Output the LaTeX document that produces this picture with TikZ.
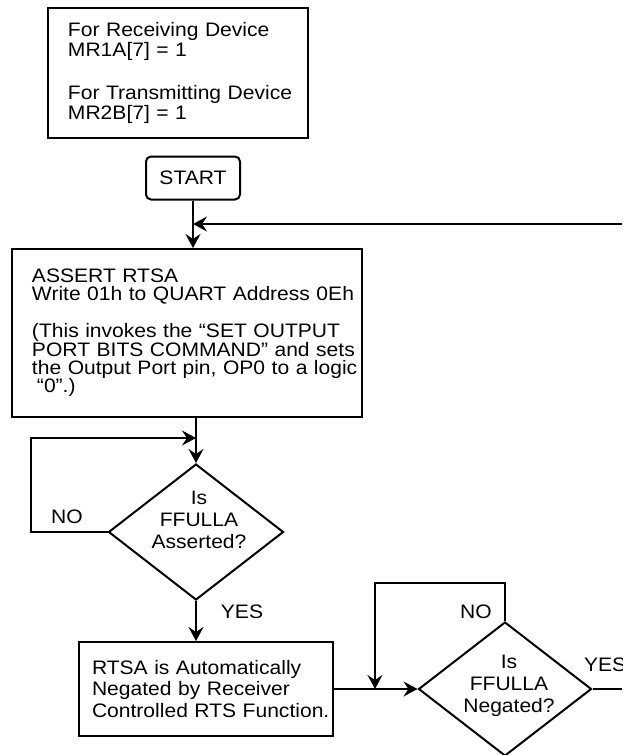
\documentclass[tikz,border=0pt]{standalone}
\usepackage{fontspec}
\setmainfont{Liberation Sans}[FakeStretch=1.08]
\usetikzlibrary{shapes.geometric,arrows.meta}

\begin{document}
\begin{tikzpicture}[x=1pt, y=-1pt, line width=2pt,
  font=\fontsize{19.5}{20}\selectfont,
  block/.style={draw, rectangle, align=left, inner sep=0pt, text width=#1,
    execute at begin node={\rightskip=-8pt plus 1fil\relax}},
  margin/.style={execute at begin node={\leftskip=#1\relax}},
  terminal/.style={draw, rectangle, rounded corners=5pt,
    minimum width=94pt, minimum height=43pt},
  decision/.style={draw, diamond, aspect=1.29, inner sep=0pt},
  question/.style={align=center, inner sep=0pt,
    font=\fontsize{19.5}{22}\selectfont},
  flow/.style={-{Stealth[length=14pt,width=15pt,inset=5pt]}}]

  \useasboundingbox (0,0) rectangle (622,755);

  % Mode register setting for both devices

  \node [block=260pt, margin=20pt, minimum height=130pt] (NOTE) at (178,73)
    {For Receiving Device\\MR1A[7] = 1\\[23pt]For Transmitting Device\\MR2B[7] = 1};

  % Start, assert RTSA and wait for FFULLA

  \node [terminal] (START) at (193,178) {START};
  \node [block=350pt, margin=20pt, minimum height=168pt,
    font=\fontsize{19.5}{18.4}\selectfont] (ASRT) at (187,333)
    {ASSERT RTSA\\Write 01h to QUART Address 0Eh\\[18.4pt]
     (This invokes the “SET OUTPUT\\PORT BITS COMMAND” and sets\\
     the Output Port pin, OP0 to a logic\\\hspace*{5pt}“0”.)};
  \node [decision, minimum width=175pt, minimum height=136pt] (FULL) at (196,532) {};
  \node [question] (FULLq) at (199,520) {Is\\FFULLA\\Asserted?};

  % Receiver negates RTSA, wait for FFULLA to drop

  \node [block=254pt, margin=13pt, minimum height=94pt,
    font=\fontsize{19.5}{21.5}\selectfont] (RTS) at (206,689)
    {RTSA is Automatically\\Negated by Receiver\\Controlled RTS Function.};
  \node [decision, minimum width=173pt, minimum height=134pt] (NEG) at (505,689) {};
  \node [question] (NEGq) at (509,686) {Is\\FFULLA\\Negated?};

  % Branch labels

  \node (NO1) at (67,517) {NO};
  \node (YES1) at (242,612) {YES};
  \node (NO2) at (476,612) {NO};
  \node [anchor=west, inner sep=0pt] (YES2) at (583,665) {YES};

  % Free ends at the right border

  \coordinate (back) at (622,224);
  \coordinate (out) at (622,689);
  \coordinate (join) at (375,689);

  % Connectors

  \draw [flow] (START.south) -- (START.south |- ASRT.north);
  \draw [flow] (back) -- (START.south |- back);
  \draw [flow] (ASRT.south -| FULL.north) -- (FULL.north);
  \draw [flow] (FULL.west) -- ++(-77,0) |- ([yshift=25pt]FULL.north);
  \draw [flow] (FULL.south) -- (FULL.south |- RTS.north);
  \draw [flow] (RTS.east) -- (NEG.west);
  \draw [flow] (NEG.north) -- ++(0,-38) -| (join);
  \draw (NEG.east) -- (out);
\end{tikzpicture}
\end{document}
